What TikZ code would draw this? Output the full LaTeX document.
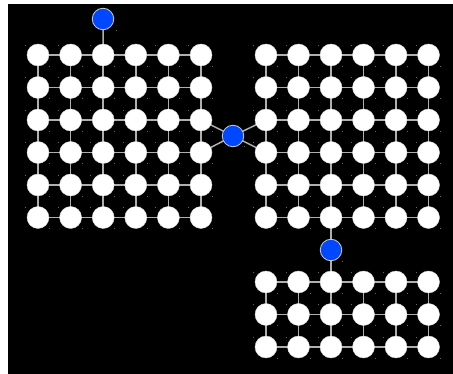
\documentclass[tikz,border=0pt]{standalone}
\pgfdeclarelayer{bg}
\pgfdeclarelayer{edges}
\pgfsetlayers{bg,edges,main}
\begin{document}
\begin{tikzpicture}[x=1pt,y=-1pt,
  dot/.style={circle,fill=white,draw=white!85!black,line width=0.4pt,minimum size=22pt,inner sep=0pt},
  hub/.style={circle,fill={rgb,255:red,0;green,72;blue,255},draw=white!80!black,line width=0.8pt,minimum size=21.5pt,inner sep=0pt},
  link/.style={draw={rgb,255:red,175;green,175;blue,175},line width=1.5pt},
  speck/.style={fill=white!40!black}]
\useasboundingbox (0,0) rectangle (453,374);
\begin{pgfonlayer}{bg}
\fill[white] (0,0) rectangle (453,374);
\fill[black] (8,4) rectangle (453,374);
\end{pgfonlayer}
\foreach \i in {0,...,5}{
  \foreach \j in {0,...,5}{
    \node[dot] (L-\i-\j) at ({38+32.6*\i},{55+32.5*\j}) {};
    \fill[speck] ({38+32.6*\i-13},{55+32.5*\j-10}) rectangle +(1,1);
    \fill[speck] ({38+32.6*\i+11},{55+32.5*\j+11}) rectangle +(1,1);
    \node[dot] (R-\i-\j) at ({266+32.5*\i},{55+32.5*\j}) {};
    \fill[speck] ({266+32.5*\i-13},{55+32.5*\j-10}) rectangle +(1,1);
    \fill[speck] ({266+32.5*\i+11},{55+32.5*\j+11}) rectangle +(1,1);
  }
  \foreach \j in {0,1,2}{
    \node[dot] (B-\i-\j) at ({266+32.5*\i},{282+32.5*\j}) {};
    \fill[speck] ({266+32.5*\i-13},{282+32.5*\j-10}) rectangle +(1,1);
    \fill[speck] ({266+32.5*\i+11},{282+32.5*\j+11}) rectangle +(1,1);
  }
}
\node[hub] (top) at (103,19) {};
\node[hub] (mid) at (233,136) {};
\node[hub] (low) at (331,250) {};
\fill[speck] (116,30) rectangle +(1,1);
\fill[speck] (244,146) rectangle +(1,1);
\fill[speck] (342,261) rectangle +(1,1);
\begin{pgfonlayer}{edges}
\foreach \a in {0,...,5}{
  \foreach \b [count=\c] in {0,...,4}{
    \draw[link] (L-\b-\a.center) -- (L-\c-\a.center);
    \draw[link] (L-\a-\b.center) -- (L-\a-\c.center);
    \draw[link] (R-\b-\a.center) -- (R-\c-\a.center);
    \draw[link] (R-\a-\b.center) -- (R-\a-\c.center);
  }
}
\foreach \a in {0,1,2}{
  \foreach \b [count=\c] in {0,...,4}{
    \draw[link] (B-\b-\a.center) -- (B-\c-\a.center);
  }
}
\foreach \a in {0,...,5}{
  \draw[link] (B-\a-0.center) -- (B-\a-1.center);
  \draw[link] (B-\a-1.center) -- (B-\a-2.center);
}
\draw[link] (top.center) -- (L-2-0.center);
\draw[link] (mid.center) -- (L-5-2.center);
\draw[link] (mid.center) -- (L-5-3.center);
\draw[link] (mid.center) -- (R-0-2.center);
\draw[link] (mid.center) -- (R-0-3.center);
\draw[link] (R-2-5.center) -- (low.center) -- (B-2-0.center);
\end{pgfonlayer}
\end{tikzpicture}
\end{document}
